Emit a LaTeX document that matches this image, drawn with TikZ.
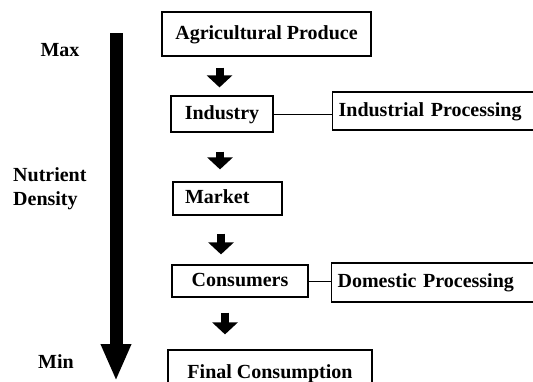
\documentclass[tikz,border=0pt]{standalone}
\usepackage{fontspec}
\setmainfont{Liberation Serif}
\usetikzlibrary{arrows.meta, calc, positioning}
\tikzset
{%
box/.style={draw, line width=1.2pt, inner sep=0pt, text height=14pt, text depth=4pt, font=\bfseries\fontsize{20}{24}\selectfont},
sbox/.style={box, anchor=west, align=left, inner xsep=6pt},
lbl/.style={inner sep=0pt, font=\bfseries\fontsize{20}{24}\selectfont},
fat/.style={line width=8pt, -{Triangle[width=25pt, length=12pt]}},
huge/.style={line width=13pt, -{Triangle[width=28pt, length=37pt]}},
link/.style={line width=0.9pt}
}

\begin{document}
\begin{tikzpicture}[x=1pt, y=-1pt]
	\clip (0,0) rectangle (533,381);
	
		% MAIN COLUMN
		\node[box, minimum width=209pt, minimum height=44pt] (agri) at (266.5,34) {Agricultural Produce};
		\node[box, minimum width=102pt, minimum height=36pt] (ind) at (222,114) {Industry};
		\node[box, text width=85pt, align=left, inner xsep=12pt, minimum height=33pt] (mkt) at (227.5,198.5) {Market};
		\node[box, minimum width=136pt, minimum height=32pt] (cons) at (240,281) {Consumers};
		\node[box, minimum width=204pt, minimum height=46pt] (fin) at (270,373) {Final Consumption};
		
		% SIDE BOXES
		\node[sbox, text width=196pt, minimum height=38pt] (indp) at (332,111) {Industrial Processing};
		\node[sbox, text width=196pt, minimum height=39pt] (domp) at (331,282.5) {Domestic Processing};
		
		% SCALE
		\coordinate (hi) at (116,33);
		\coordinate (lo) at (116,381);
		\node[lbl] (max) at (60,50) {Max};
		\node[lbl, align=left, anchor=west] (dens) at (13,189) {Nutrient\\Density};
		\node[lbl] (min) at (56,362) {Min};
		
		% arrow columns
		\coordinate (c1) at (219.5,0);
		\coordinate (c2) at (220,0);
		\coordinate (c3) at (221,0);
		\coordinate (c4) at (225,0);
		
		\draw[huge] (hi) -- (lo);
		\path[fat] (agri.south -| c1) edge[shorten <=11pt, shorten >=8pt] (ind.north -| c1)
		(ind.south -| c2) edge[shorten <=19pt, shorten >=12pt] (mkt.north -| c2)
		(mkt.south -| c3) edge[shorten <=18pt, shorten >=10pt] (cons.north -| c3)
		(cons.south -| c4) edge[shorten <=15pt, shorten >=15pt] (fin.north -| c4);
		\path[link] (ind.east) edge (ind.east -| indp.west)
		(cons.east) edge (cons.east -| domp.west);
	\end{tikzpicture}
\end{document}
